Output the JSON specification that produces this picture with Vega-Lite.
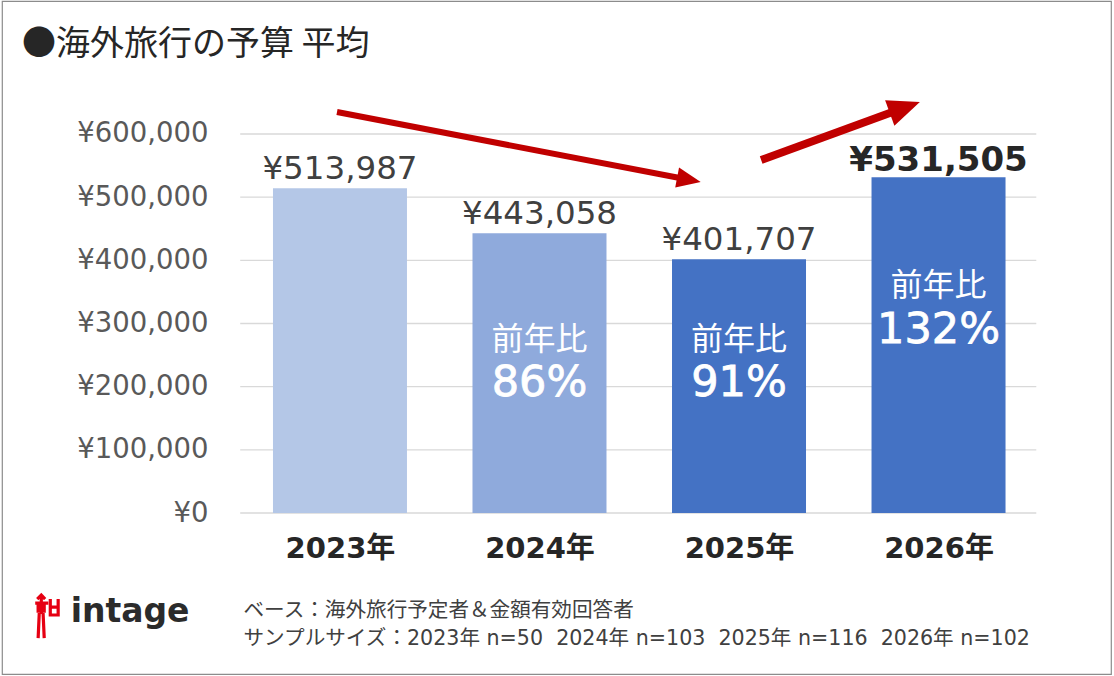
{
  "$schema": "https://vega.github.io/schema/vega-lite/v6.json",
  "width": 1109,
  "height": 673,
  "autosize": {"type": "none"},
  "padding": {"left": 2, "top": 1, "right": 3, "bottom": 2},
  "background": "white",
  "config": {
    "view": {"stroke": "#8C8C8C", "strokeWidth": 1.2},
    "font": "DejaVu Sans, Noto Sans CJK JP"
  },
  "title": {
    "text": "●海外旅行の予算 平均",
    "anchor": "start",
    "frame": "group",
    "orient": "top",
    "baseline": "top",
    "offset": -61,
    "dx": 20,
    "font": "Noto Sans CJK JP",
    "fontSize": 34,
    "fontWeight": "normal",
    "color": "#262626"
  },
  "datasets": {
    "budget": [
      {"year": 2023, "value": 513987, "yoy": null},
      {"year": 2024, "value": 443058, "yoy": 0.86},
      {"year": 2025, "value": 401707, "yoy": 0.91},
      {"year": 2026, "value": 531505, "yoy": 1.32}
    ],
    "grid": [
      {"tick": 0}, {"tick": 100000}, {"tick": 200000}, {"tick": 300000},
      {"tick": 400000}, {"tick": 500000}, {"tick": 600000}
    ],
    "arrows": [
      {"trend": "down", "from_year": 2022.985, "from_value": 634800, "to_year": 2024.749, "to_value": 527500},
      {"trend": "up", "from_year": 2025.111, "from_value": 558800, "to_year": 2025.831, "to_value": 641900}
    ],
    "brand": [{"name": "intage"}]
  },
  "layer": [
    {
      "data": {"name": "grid"},
      "mark": {"type": "rule", "color": "#D9D9D9", "strokeWidth": 1.3},
      "encoding": {
        "x": {
          "datum": 2022.5,
          "type": "quantitative",
          "scale": {"domain": [2021.3311, 2026.8394], "nice": false, "zero": false},
          "axis": {
            "orient": "bottom",
            "offset": -161,
            "values": [2023, 2024, 2025, 2026],
            "labelExpr": "format(datum.value, 'd') + '年'",
            "labelFont": "DejaVu Sans, Noto Sans CJK JP",
            "labelFontSize": 29,
            "labelFontWeight": "bold",
            "labelColor": "#262626",
            "labelPadding": 21,
            "labelBaseline": "top",
            "domain": false,
            "ticks": false,
            "grid": false,
            "title": [
              "ベース：海外旅行予定者＆金額有効回答者",
              "サンプルサイズ：2023年 n=50\u00a0\u00a02024年 n=103\u00a0\u00a02025年 n=116\u00a0\u00a02026年 n=102"
            ],
            "titleFont": "DejaVu Sans, Noto Sans CJK JP",
            "titleFontSize": 20.6,
            "titleFontWeight": "normal",
            "titleColor": "#404040",
            "titleAlign": "left",
            "titleBaseline": "top",
            "titleX": 241,
            "titleY": 87,
            "titleLineHeight": 28
          }
        },
        "x2": {"datum": 2026.49},
        "y": {
          "field": "tick",
          "type": "quantitative",
          "scale": {"domain": [-254880, 810550], "nice": false, "zero": false},
          "axis": {
            "orient": "left",
            "offset": -235,
            "values": [0, 100000, 200000, 300000, 400000, 500000, 600000],
            "labelExpr": "'¥' + format(datum.value, ',')",
            "labelFont": "DejaVu Sans",
            "labelFontSize": 27.5,
            "labelColor": "#595959",
            "labelPadding": 29,
            "domain": false,
            "ticks": false,
            "grid": false,
            "title": null
          }
        }
      }
    },
    {
      "data": {"name": "budget"},
      "mark": {"type": "bar", "width": 134},
      "encoding": {
        "x": {"field": "year", "type": "quantitative"},
        "y": {"field": "value", "type": "quantitative"},
        "y2": {"datum": 0},
        "color": {
          "field": "year",
          "type": "ordinal",
          "scale": {"domain": [2023, 2024, 2025, 2026], "range": ["#B4C7E7", "#8FAADC", "#4472C4", "#4472C4"]},
          "legend": null
        }
      }
    },
    {
      "data": {"name": "budget"},
      "transform": [
        {"filter": "datum.year < 2026"},
        {"calculate": "'¥' + format(datum.value, ',')", "as": "label"}
      ],
      "mark": {"type": "text", "font": "DejaVu Sans", "fontSize": 32.5, "color": "#404040", "baseline": "alphabetic", "dy": -9},
      "encoding": {
        "x": {"field": "year", "type": "quantitative"},
        "y": {"field": "value", "type": "quantitative"},
        "text": {"field": "label"}
      }
    },
    {
      "data": {"name": "budget"},
      "transform": [
        {"filter": "datum.year == 2026"},
        {"calculate": "'¥' + format(datum.value, ',')", "as": "label"}
      ],
      "mark": {"type": "text", "font": "DejaVu Sans", "fontSize": 34, "fontWeight": "bold", "color": "#262626", "baseline": "alphabetic", "dy": -6},
      "encoding": {
        "x": {"field": "year", "type": "quantitative"},
        "y": {"field": "value", "type": "quantitative"},
        "text": {"field": "label"}
      }
    },
    {
      "data": {"name": "budget"},
      "transform": [{"filter": "datum.year == 2024 || datum.year == 2025"}],
      "mark": {"type": "text", "font": "Noto Sans CJK JP", "fontSize": 32, "color": "white", "baseline": "middle"},
      "encoding": {
        "x": {"field": "year", "type": "quantitative"},
        "y": {"datum": 273900, "type": "quantitative"},
        "text": {"value": "前年比"}
      }
    },
    {
      "data": {"name": "budget"},
      "transform": [{"filter": "datum.year == 2024 || datum.year == 2025"}],
      "mark": {"type": "text", "font": "DejaVu Sans", "fontSize": 43, "fontWeight": 500, "color": "white", "stroke": "white", "strokeWidth": 0.8, "baseline": "middle"},
      "encoding": {
        "x": {"field": "year", "type": "quantitative"},
        "y": {"datum": 205800, "type": "quantitative"},
        "text": {"field": "yoy", "format": ".0%"}
      }
    },
    {
      "data": {"name": "budget"},
      "transform": [{"filter": "datum.year == 2026"}],
      "mark": {"type": "text", "font": "Noto Sans CJK JP", "fontSize": 32, "color": "white", "baseline": "middle"},
      "encoding": {
        "x": {"field": "year", "type": "quantitative"},
        "y": {"datum": 359400, "type": "quantitative"},
        "text": {"value": "前年比"}
      }
    },
    {
      "data": {"name": "budget"},
      "transform": [{"filter": "datum.year == 2026"}],
      "mark": {"type": "text", "font": "DejaVu Sans", "fontSize": 43, "fontWeight": 500, "color": "white", "stroke": "white", "strokeWidth": 0.8, "baseline": "middle"},
      "encoding": {
        "x": {"field": "year", "type": "quantitative"},
        "y": {"datum": 289700, "type": "quantitative"},
        "text": {"field": "yoy", "format": ".0%"}
      }
    },
    {
      "data": {"name": "arrows"},
      "transform": [{"filter": "datum.trend == 'down'"}],
      "mark": {"type": "rule", "color": "#C00000", "strokeWidth": 6, "strokeCap": "butt"},
      "encoding": {
        "x": {"field": "from_year", "type": "quantitative"},
        "y": {"field": "from_value", "type": "quantitative"},
        "x2": {"field": "to_year"},
        "y2": {"field": "to_value"}
      }
    },
    {
      "data": {"name": "arrows"},
      "transform": [{"filter": "datum.trend == 'down'"}],
      "mark": {"type": "point", "shape": "M1,0L-1,-0.85L-1,0.85Z", "filled": true, "color": "#C00000", "opacity": 1, "size": 576, "angle": 10.8},
      "encoding": {
        "x": {"field": "to_year", "type": "quantitative"},
        "y": {"field": "to_value", "type": "quantitative"}
      }
    },
    {
      "data": {"name": "arrows"},
      "transform": [{"filter": "datum.trend == 'up'"}],
      "mark": {"type": "rule", "color": "#C00000", "strokeWidth": 8, "strokeCap": "butt"},
      "encoding": {
        "x": {"field": "from_year", "type": "quantitative"},
        "y": {"field": "from_value", "type": "quantitative"},
        "x2": {"field": "to_year"},
        "y2": {"field": "to_value"}
      }
    },
    {
      "data": {"name": "arrows"},
      "transform": [{"filter": "datum.trend == 'up'"}],
      "mark": {"type": "point", "shape": "M1,0L-1,-0.85L-1,0.85Z", "filled": true, "color": "#C00000", "opacity": 1, "size": 1024, "angle": 340.1},
      "encoding": {
        "x": {"field": "to_year", "type": "quantitative"},
        "y": {"field": "to_value", "type": "quantitative"}
      }
    },
    {
      "data": {"name": "brand"},
      "mark": {
        "type": "point",
        "shape": "M-0.42,-0.78L-0.24,-0.96L-0.07,-0.78M-0.51,-0.6L0.07,-0.6M-0.24,-0.96L-0.24,-0.11M-0.38,-0.51L-0.11,-0.51L-0.11,-0.24L-0.38,-0.24Z M-0.33,-0.16L-0.38,0.96M-0.16,-0.16L-0.11,0.96M0.16,-0.78L0.16,-0.07L0.51,-0.07L0.51,-0.78M0.16,-0.42L0.51,-0.42",
        "filled": false,
        "stroke": "#E60012",
        "strokeWidth": 3.2,
        "opacity": 1,
        "size": 2025
      },
      "encoding": {
        "x": {"datum": 2021.53, "type": "quantitative"},
        "y": {"datum": -164000, "type": "quantitative"}
      }
    },
    {
      "data": {"name": "brand"},
      "mark": {"type": "text", "font": "DejaVu Sans", "fontSize": 33, "fontWeight": "bold", "color": "#2B2B2B", "align": "left", "baseline": "middle"},
      "encoding": {
        "x": {"datum": 2021.65, "type": "quantitative"},
        "y": {"datum": -156700, "type": "quantitative"},
        "text": {"field": "name"}
      }
    }
  ]
}
